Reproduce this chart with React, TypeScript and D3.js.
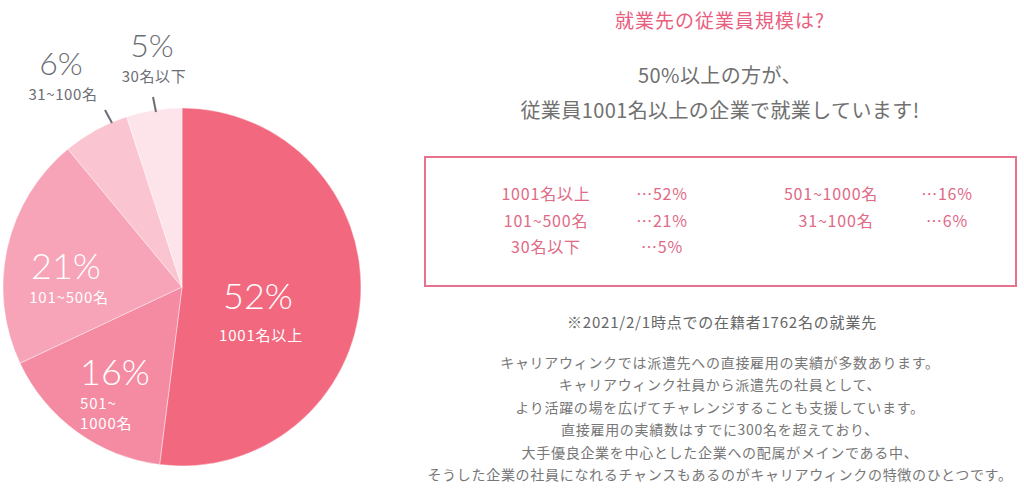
import { useEffect, useRef } from 'react'
import * as d3 from 'd3'

const W = 1024, H = 488
const JP = '"Noto Sans CJK JP", "Noto Sans", sans-serif'
const NUM = 'Lato, "Noto Sans", sans-serif'

const categories = ['1001名以上', '501~1000名', '101~500名', '31~100名', '30名以下']
const shares = [52, 16, 21, 6, 5]
const sliceColors = ['#f2697f', '#f48ba2', '#f7a3b8', '#fac4d0', '#fde4ea']

// sub-label lines shown under each pie percentage
const pieSubLabels = [['1001名以上'], ['501~', '1000名'], ['101~500名'], ['31~100名'], ['30名以下']]

const boxLeft = ['1001名以上', '101~500名', '30名以下']
const boxLeftVal = ['…52%', '…21%', '…5%']
const boxRight = ['501~1000名', '31~100名']
const boxRightVal = ['…16%', '…6%']

const bodyLines = [
  'キャリアウィンクでは派遣先への直接雇用の実績が多数あります。',
  'キャリアウィンク社員から派遣先の社員として、',
  'より活躍の場を広げてチャレンジすることも支援しています。',
  '直接雇用の実績数はすでに300名を超えており、',
  '大手優良企業を中心とした企業への配属がメインである中、',
  'そうした企業の社員になれるチャンスもあるのがキャリアウィンクの特徴のひとつです。',
]

export default function App() {
  const ref = useRef<SVGSVGElement>(null)

  useEffect(() => {
    const svg = d3.select(ref.current!)
    svg.selectAll('*').remove()

    const cx = 182, cy = 287, r = 179
    const pie = d3.pie<number>().sort(null).value(d => d)
    const arcs = pie(shares)
    const arc = d3.arc<d3.PieArcDatum<number>>().innerRadius(0).outerRadius(r)

    const g = svg.append('g').attr('transform', `translate(${cx},${cy})`)
    g.selectAll('path').data(arcs).join('path')
      .attr('d', arc)
      .attr('fill', (_, i) => sliceColors[i])
      .attr('stroke', '#fff').attr('stroke-width', 0.4)
      .append('title').text((_, i) => categories[i])

    // labels inside the big slices
    const inside = [
      { i: 0, pos: [76, 22], gap: 32 },
      { i: 1, pos: [-67, 98], gap: 24 },
      { i: 2, pos: [-116, -8], gap: 24 },
    ]
    inside.forEach(({ i, pos, gap }) => {
      const t = g.append('g').attr('transform', `translate(${pos[0]},${pos[1]})`)
      t.append('text').attr('text-anchor', 'middle').attr('font-family', NUM)
        .attr('font-weight', 300).attr('font-size', 36).attr('fill', '#fff')
        .text(`${shares[i]}%`)
      pieSubLabels[i].forEach((s, k) => {
        t.append('text')
          .attr('x', i === 1 ? -35 : 3)
          .attr('y', gap + k * 20)
          .attr('text-anchor', i === 1 ? 'start' : 'middle')
          .attr('font-family', JP).attr('font-size', 15).attr('letter-spacing', 0.8)
          .attr('fill', '#fff')
          .text(s)
      })
    })

    // small slices: labels outside with leader lines
    const outside = [
      { i: 3, lx: 61, ly: 75, l1: [105, 110], l2: [112, 123] },
      { i: 4, lx: 152, ly: 57, l1: [153, 97], l2: [156, 112] },
    ]
    outside.forEach(({ i, lx, ly, l1, l2 }) => {
      svg.append('text').attr('x', lx).attr('y', ly).attr('text-anchor', 'middle')
        .attr('font-family', NUM).attr('font-weight', 300).attr('font-size', 32).attr('fill', '#6c6e75')
        .text(`${shares[i]}%`)
      svg.append('text').attr('x', lx + 2).attr('y', ly + 25).attr('text-anchor', 'middle')
        .attr('font-family', JP).attr('font-size', 15).attr('letter-spacing', 0.6).attr('fill', '#6c6e75')
        .text(pieSubLabels[i][0])
      svg.append('line').attr('x1', l1[0]).attr('y1', l1[1]).attr('x2', l2[0]).attr('y2', l2[1])
        .attr('stroke', '#6c6e75').attr('stroke-width', 2)
    })

    // right side texts
    const tx = 720
    svg.append('text').attr('x', tx).attr('y', 28).attr('text-anchor', 'middle')
      .attr('font-family', JP).attr('font-size', 19).attr('letter-spacing', 1).attr('fill', '#e9607f')
      .text('就業先の従業員規模は?')
    svg.append('text').attr('x', tx).attr('y', 83).attr('text-anchor', 'middle')
      .attr('font-family', JP).attr('font-size', 20).attr('letter-spacing', 0.4).attr('fill', '#707070')
      .text('50%以上の方が、')
    svg.append('text').attr('x', tx).attr('y', 118).attr('text-anchor', 'middle')
      .attr('font-family', JP).attr('font-size', 20).attr('letter-spacing', 0.4).attr('fill', '#707070')
      .text('従業員1001名以上の企業で就業しています!')

    svg.append('rect').attr('x', 425).attr('y', 157).attr('width', 591).attr('height', 129)
      .attr('fill', 'none').attr('stroke', '#e7728d').attr('stroke-width', 2)

    const rowY = d3.scalePoint<number>().domain([0, 1, 2]).range([200, 253])
    const boxText = (x: number, y: number, s: string) =>
      svg.append('text').attr('x', x).attr('y', y).attr('text-anchor', 'middle')
        .attr('font-family', JP).attr('font-size', 16).attr('letter-spacing', 0.8)
        .attr('fill', '#e06a86').text(s)
    boxLeft.forEach((s, i) => boxText(546, rowY(i)!, s))
    boxLeftVal.forEach((s, i) => boxText(662, rowY(i)!, s))
    boxRight.forEach((s, i) => boxText(i === 0 ? 831 : 836, rowY(i)!, s))
    boxRightVal.forEach((s, i) => boxText(947, rowY(i)!, s))

    svg.append('text').attr('x', 722).attr('y', 328).attr('text-anchor', 'middle')
      .attr('font-family', JP).attr('font-size', 15).attr('letter-spacing', 0.8).attr('fill', '#666')
      .text('※2021/2/1時点での在籍者1762名の就業先')

    const lineY = d3.scaleLinear().domain([0, bodyLines.length - 1]).range([368, 480])
    bodyLines.forEach((s, i) => {
      svg.append('text').attr('x', 720).attr('y', lineY(i)).attr('text-anchor', 'middle')
        .attr('font-family', JP).attr('font-size', 14).attr('letter-spacing', 0.7).attr('fill', '#777')
        .text(s)
    })
  }, [])

  return (
    <svg ref={ref} width={W} height={H} viewBox={`0 0 ${W} ${H}`}
      style={{ position: 'absolute', left: 0, top: 0, background: '#fff' }} />
  )
}
